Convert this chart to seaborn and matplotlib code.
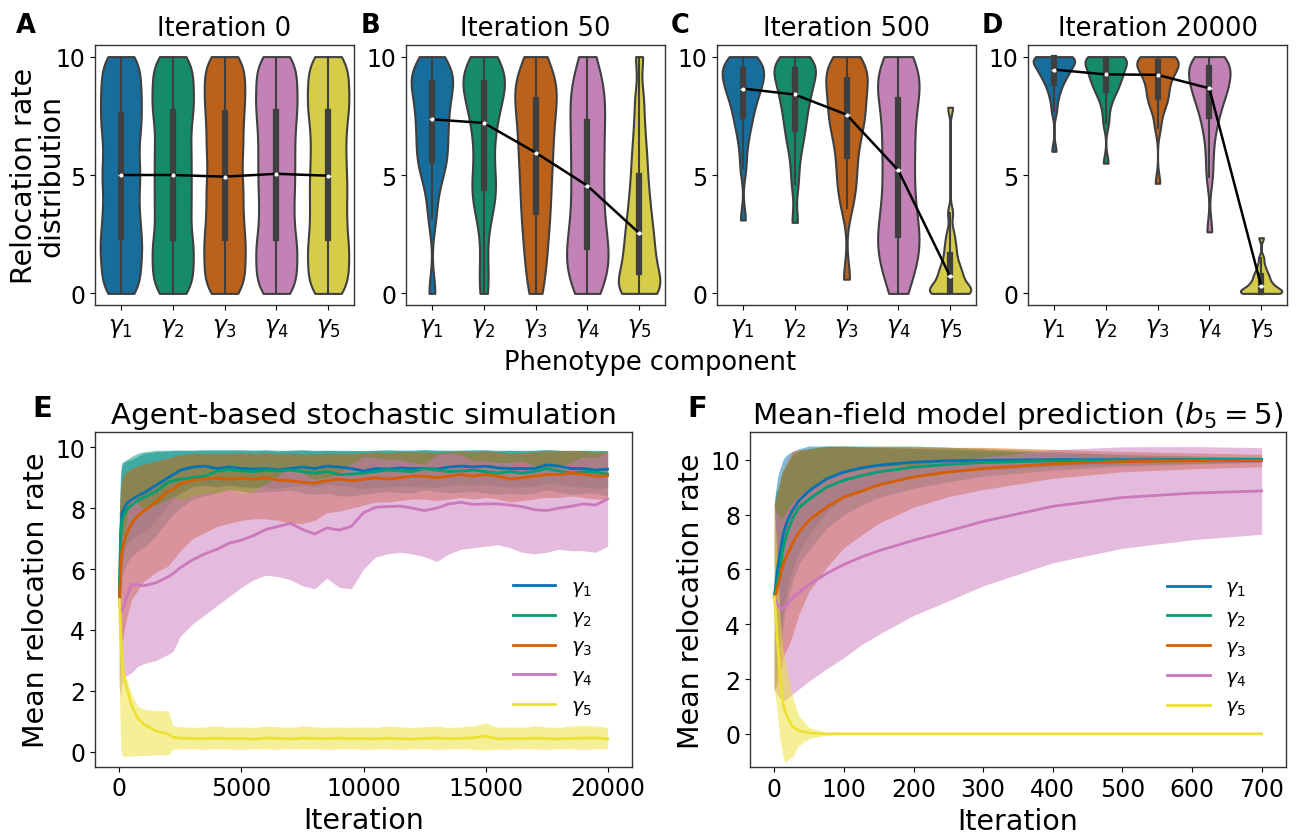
import numpy as np
import pandas as pd
import matplotlib
matplotlib.use("Agg")
import matplotlib.pyplot as plt
import seaborn as sns

# ---------------- data ----------------
components = ["$\\gamma_1$", "$\\gamma_2$", "$\\gamma_3$", "$\\gamma_4$", "$\\gamma_5$"]
colors = ["#0173B2", "#029E73", "#D55E00", "#CC78BC", "#ECE133"]
violin_titles = ["Iteration 0", "Iteration 50", "Iteration 500", "Iteration 20000"]

# relocation-rate samples (quantile read-outs) per phenotype component
iter0_samples = [
    [0, 0.5, 1.0, 1.5, 1.95, 2.4, 2.9, 3.4, 3.95, 4.5, 5.0, 5.5, 6.05, 6.6, 7.1, 7.55, 8.05, 8.5, 9.0, 9.5, 10],
    [0, 0.5, 0.95, 1.45, 1.9, 2.35, 2.9, 3.45, 3.95, 4.5, 5.0, 5.55, 6.05, 6.6, 7.15, 7.65, 8.1, 8.55, 9.05, 9.5, 10],
    [0, 0.5, 0.95, 1.45, 1.9, 2.35, 2.85, 3.35, 3.9, 4.4, 4.93, 5.5, 6.05, 6.55, 7.1, 7.6, 8.1, 8.55, 9.05, 9.5, 10],
    [0, 0.5, 0.95, 1.45, 1.9, 2.35, 2.9, 3.45, 4.0, 4.55, 5.05, 5.6, 6.1, 6.65, 7.15, 7.65, 8.1, 8.55, 9.05, 9.5, 10],
    [0, 0.5, 0.95, 1.45, 1.9, 2.35, 2.9, 3.4, 3.95, 4.45, 4.97, 5.5, 6.05, 6.6, 7.15, 7.65, 8.1, 8.55, 9.05, 9.5, 10],
]
iter50_samples = [
    [0, 3.2, 4.3, 5.0, 5.4, 5.65, 6.0, 6.35, 6.7, 7.05, 7.35, 7.7, 8.0, 8.3, 8.6, 8.9, 9.1, 9.3, 9.45, 9.6, 10],
    [0, 1.2, 2.8, 3.7, 4.1, 4.45, 4.9, 5.5, 6.1, 6.7, 7.2, 7.6, 7.95, 8.3, 8.6, 8.9, 9.1, 9.3, 9.45, 9.6, 10],
    [0, 0.9, 1.6, 2.3, 2.9, 3.45, 3.95, 4.5, 5.0, 5.5, 5.95, 6.4, 6.85, 7.3, 7.75, 8.15, 8.5, 8.8, 9.1, 9.4, 10],
    [0, 0.45, 0.85, 1.25, 1.6, 1.95, 2.4, 2.9, 3.45, 4.0, 4.55, 5.1, 5.65, 6.15, 6.7, 7.25, 7.75, 8.25, 8.7, 9.15, 10],
    [0, 0, 0.15, 0.35, 0.55, 0.9, 1.2, 1.5, 1.85, 2.2, 2.55, 2.95, 3.35, 3.85, 4.35, 4.95, 5.6, 6.3, 7.2, 8.3, 10],
]
iter500_samples = [
    [3.1, 5.3, 6.2, 6.8, 7.2, 7.5, 7.8, 8.05, 8.3, 8.5, 8.65, 8.8, 8.95, 9.1, 9.25, 9.45, 9.55, 9.65, 9.75, 9.85, 10],
    [3.0, 4.6, 5.5, 6.2, 6.6, 6.95, 7.3, 7.6, 7.9, 8.15, 8.4, 8.6, 8.8, 9.0, 9.2, 9.45, 9.55, 9.65, 9.75, 9.85, 10],
    [0.6, 3.6, 4.3, 4.8, 5.3, 5.8, 6.3, 6.7, 7.0, 7.3, 7.55, 7.85, 8.1, 8.35, 8.65, 9.0, 9.2, 9.4, 9.55, 9.7, 10],
    [0, 0.8, 1.3, 1.75, 2.1, 2.45, 2.9, 3.4, 4.0, 4.6, 5.2, 5.8, 6.35, 6.9, 7.5, 8.15, 8.6, 8.95, 9.25, 9.55, 10],
    [0, 0, 0.02, 0.05, 0.07, 0.1, 0.2, 0.3, 0.45, 0.6, 0.72, 0.85, 1.0, 1.15, 1.35, 1.62, 1.9, 2.2, 2.6, 3.4, 7.86],
]
iter20000_samples = [
    [6.0, 7.7, 8.2, 8.5, 8.75, 8.9, 9.05, 9.2, 9.3, 9.38, 9.45, 9.55, 9.65, 9.75, 9.85, 9.92, 9.95, 9.97, 9.98, 9.99, 10],
    [5.5, 7.2, 7.8, 8.2, 8.45, 8.6, 8.75, 8.9, 9.05, 9.15, 9.25, 9.35, 9.45, 9.6, 9.72, 9.85, 9.9, 9.94, 9.97, 9.99, 10],
    [4.65, 7.0, 7.6, 7.95, 8.15, 8.3, 8.5, 8.7, 8.9, 9.05, 9.23, 9.35, 9.45, 9.57, 9.68, 9.79, 9.86, 9.92, 9.96, 9.99, 10],
    [2.6, 4.9, 5.8, 6.6, 7.1, 7.5, 7.8, 8.05, 8.3, 8.5, 8.66, 8.8, 8.95, 9.1, 9.3, 9.5, 9.6, 9.72, 9.82, 9.92, 10],
    [0, 0, 0.01, 0.02, 0.03, 0.05, 0.1, 0.15, 0.2, 0.26, 0.32, 0.38, 0.45, 0.55, 0.65, 0.75, 0.85, 1.0, 1.2, 1.5, 2.35],
]

# Panel E: agent-based simulation (mean, lower and upper band edges)
e_iter = [0, 50, 100, 200, 300, 500, 750, 1000, 1500, 2000, 2200,
          2500, 3000, 3500, 4000, 4500, 5000, 5500, 6000, 6500, 7000,
          7500, 8000, 8500, 9000, 9500, 10000, 10500, 11000, 11500, 12000,
          12500, 13000, 13500, 14000, 14500, 15000, 15500, 16000, 16500, 17000,
          17500, 18000, 18500, 19000, 19500, 20000]
e_mean_1 = [5.0, 7.2, 7.8, 8.0, 8.15, 8.28, 8.4, 8.5, 8.75, 9.0, 9.1,
            9.25, 9.35, 9.38, 9.3, 9.35, 9.3, 9.28, 9.3, 9.25, 9.3,
            9.35, 9.3, 9.38, 9.35, 9.3, 9.22, 9.3, 9.28, 9.32, 9.3,
            9.3, 9.28, 9.35, 9.38, 9.35, 9.38, 9.32, 9.3, 9.3, 9.3,
            9.42, 9.38, 9.3, 9.3, 9.25, 9.28]
e_lo_1 = [2.1, 5.0, 6.2, 6.5, 6.8, 7.0, 7.1, 7.2, 7.6, 8.1, 8.3,
          8.5, 8.7, 8.75, 8.7, 8.75, 8.7, 8.68, 8.7, 8.65, 8.7,
          8.75, 8.7, 8.78, 8.75, 8.7, 8.62, 8.7, 8.68, 8.72, 8.7,
          8.7, 8.68, 8.75, 8.78, 8.75, 8.78, 8.72, 8.7, 8.7, 8.7,
          8.82, 8.78, 8.7, 8.7, 8.65, 8.68]
e_hi_1 = [7.9, 9.0, 9.4, 9.5, 9.55, 9.6, 9.7, 9.8, 9.85, 9.88, 9.9,
          9.9, 9.9, 9.92, 9.9, 9.9, 9.92, 9.9, 9.9, 9.88, 9.9,
          9.92, 9.9, 9.9, 9.9, 9.9, 9.88, 9.9, 9.9, 9.9, 9.9,
          9.92, 9.9, 9.9, 9.9, 9.9, 9.92, 9.9, 9.9, 9.9, 9.9,
          9.92, 9.9, 9.9, 9.9, 9.88, 9.9]
e_mean_2 = [5.0, 7.0, 7.6, 7.8, 7.95, 8.1, 8.25, 8.35, 8.55, 8.85, 8.9,
            8.95, 9.0, 9.05, 9.22, 9.28, 9.22, 9.2, 9.25, 9.22, 9.25,
            9.2, 9.15, 9.2, 9.1, 9.12, 9.15, 9.2, 9.25, 9.22, 9.2,
            9.3, 9.25, 9.2, 9.22, 9.25, 9.2, 9.15, 9.2, 9.15, 9.2,
            9.3, 9.22, 9.15, 9.2, 9.18, 9.12]
e_lo_2 = [2.1, 4.8, 5.7, 6.0, 6.2, 6.4, 6.6, 6.7, 7.1, 7.6, 7.8,
          8.0, 8.3, 8.4, 8.5, 8.6, 8.55, 8.5, 8.55, 8.55, 8.6,
          8.5, 8.45, 8.5, 8.4, 8.4, 8.45, 8.5, 8.55, 8.5, 8.5,
          8.6, 8.55, 8.5, 8.52, 8.55, 8.5, 8.45, 8.5, 8.45, 8.5,
          8.6, 8.52, 8.45, 8.5, 8.48, 8.4]
e_hi_2 = [7.9, 9.2, 9.5, 9.55, 9.6, 9.7, 9.8, 9.85, 9.9, 9.9, 9.9,
          9.9, 9.9, 9.9, 9.92, 9.92, 9.9, 9.9, 9.92, 9.9, 9.9,
          9.9, 9.88, 9.9, 9.88, 9.88, 9.9, 9.9, 9.92, 9.9, 9.9,
          9.92, 9.9, 9.9, 9.9, 9.92, 9.9, 9.88, 9.9, 9.88, 9.9,
          9.92, 9.9, 9.88, 9.9, 9.9, 9.88]
e_mean_3 = [5.0, 6.0, 6.6, 6.9, 7.15, 7.5, 7.75, 7.9, 8.2, 8.55, 8.62,
            8.8, 8.92, 8.96, 8.98, 8.95, 8.98, 8.95, 9.0, 8.92, 8.9,
            8.85, 8.82, 8.9, 8.95, 8.9, 8.95, 9.0, 8.95, 9.0, 9.05,
            9.05, 9.0, 9.05, 9.1, 9.05, 9.1, 9.05, 8.95, 9.0, 9.05,
            9.1, 9.1, 9.15, 9.12, 9.05, 9.07]
e_lo_3 = [2.1, 3.2, 3.5, 4.0, 4.4, 5.0, 5.3, 5.6, 5.9, 6.1, 6.3,
          6.6, 7.0, 7.2, 7.4, 7.5, 7.6, 7.65, 7.65, 7.6, 7.5,
          7.5, 7.6, 7.85, 7.9, 8.0, 8.1, 8.2, 8.2, 8.25, 8.3,
          8.3, 8.25, 8.3, 8.35, 8.3, 8.35, 8.3, 8.2, 8.25, 8.3,
          8.35, 8.35, 8.4, 8.35, 8.3, 8.3]
e_hi_3 = [7.9, 8.6, 8.9, 9.1, 9.2, 9.3, 9.4, 9.45, 9.55, 9.65, 9.7,
          9.75, 9.8, 9.8, 9.8, 9.8, 9.82, 9.8, 9.82, 9.8, 9.8,
          9.78, 9.78, 9.8, 9.8, 9.8, 9.82, 9.85, 9.82, 9.85, 9.85,
          9.85, 9.82, 9.85, 9.88, 9.85, 9.88, 9.85, 9.8, 9.82, 9.85,
          9.88, 9.88, 9.9, 9.88, 9.85, 9.85]
e_mean_4 = [5.0, 4.6, 4.65, 4.8, 5.1, 5.5, 5.48, 5.45, 5.55, 5.75, 5.85,
            6.05, 6.3, 6.5, 6.65, 6.85, 6.95, 7.1, 7.3, 7.4, 7.5,
            7.3, 7.15, 7.35, 7.28, 7.4, 7.85, 8.03, 8.05, 8.07, 8.0,
            7.92, 8.0, 8.14, 8.19, 8.12, 8.14, 8.14, 8.1, 8.05, 7.95,
            7.92, 8.0, 8.06, 8.14, 8.1, 8.3]
e_lo_4 = [2.1, 1.8, 2.2, 2.5, 2.5, 2.6, 2.8, 2.9, 3.0, 3.2, 3.3,
          3.8, 4.2, 4.5, 4.8, 5.1, 5.4, 5.65, 5.8, 5.75, 5.65,
          5.45, 5.35, 5.7, 5.4, 5.35, 6.0, 6.4, 6.5, 6.55, 6.5,
          6.4, 6.25, 6.5, 6.65, 6.7, 6.75, 6.8, 6.7, 6.55, 6.5,
          6.55, 6.65, 6.6, 6.6, 6.55, 6.75]
e_hi_4 = [7.9, 7.4, 7.1, 7.1, 7.7, 8.4, 8.15, 8.0, 8.1, 8.3, 8.4,
          8.3, 8.4, 8.5, 8.5, 8.6, 8.5, 8.55, 8.8, 9.05, 9.35,
          9.15, 8.95, 9.0, 9.15, 9.45, 9.7, 9.65, 9.6, 9.6, 9.5,
          9.45, 9.75, 9.8, 9.75, 9.55, 9.55, 9.5, 9.5, 9.55, 9.4,
          9.3, 9.35, 9.5, 9.7, 9.65, 9.85]
e_mean_5 = [5.0, 3.8, 3.0, 2.4, 2.1, 1.5, 1.1, 0.9, 0.68, 0.58, 0.48,
            0.45, 0.44, 0.43, 0.45, 0.43, 0.44, 0.42, 0.45, 0.44, 0.42,
            0.45, 0.44, 0.43, 0.45, 0.43, 0.44, 0.42, 0.45, 0.43, 0.42,
            0.44, 0.45, 0.43, 0.44, 0.46, 0.52, 0.42, 0.44, 0.43, 0.45,
            0.44, 0.42, 0.44, 0.45, 0.46, 0.42]
e_lo_5 = [2.1, 0.2, -0.1, -0.15, -0.15, -0.15, -0.12, -0.13, -0.1, -0.1, 0.08,
          0.09, 0.1, 0.08, 0.1, 0.09, 0.08, 0.1, 0.09, 0.08, 0.1,
          0.09, 0.1, 0.08, 0.09, 0.1, 0.08, 0.09, 0.1, 0.08, 0.09,
          0.1, 0.08, 0.09, 0.1, 0.08, 0.06, 0.09, 0.08, 0.1, 0.09,
          0.08, 0.1, 0.09, 0.08, 0.09, 0.1]
e_hi_5 = [7.9, 5.5, 4.0, 2.6, 2.4, 1.9, 1.5, 1.4, 1.35, 1.35, 0.85,
          0.82, 0.8, 0.82, 0.85, 0.8, 0.82, 0.8, 0.85, 0.82, 0.8,
          0.85, 0.82, 0.8, 0.82, 0.8, 0.82, 0.8, 0.85, 0.82, 0.8,
          0.82, 0.85, 0.8, 0.82, 0.85, 0.95, 0.8, 0.82, 0.8, 0.85,
          0.82, 0.8, 0.85, 0.88, 0.85, 0.8]

# Panel F: mean-field model (mean and standard deviation)
f_iter = [0, 2, 5, 8, 10, 12, 15, 20, 26, 35, 50, 75, 100, 125, 150, 200, 250, 300, 400, 500, 600, 700]
f_mean_1 = [5.0, 5.45, 6.1, 6.6, 6.9, 7.2, 7.5, 7.85, 8.15, 8.5, 8.87, 9.3, 9.55, 9.7, 9.8, 9.91, 9.96, 9.98, 10.0, 10.0, 10.0, 10.0]
f_mean_2 = [5.0, 5.3, 5.65, 6.0, 6.35, 6.7, 7.05, 7.45, 7.85, 8.25, 8.56, 9.0, 9.25, 9.42, 9.56, 9.73, 9.83, 9.9, 9.96, 9.98, 9.99, 10.0]
f_mean_3 = [5.0, 5.1, 5.4, 5.7, 5.95, 6.15, 6.35, 6.6, 6.95, 7.35, 7.8, 8.27, 8.64, 8.85, 9.08, 9.37, 9.55, 9.68, 9.85, 9.93, 9.96, 9.97]
f_mean_4 = [5.0, 4.85, 4.7, 4.6, 4.57, 4.56, 4.62, 4.78, 4.95, 5.15, 5.45, 5.85, 6.18, 6.45, 6.68, 7.06, 7.4, 7.75, 8.3, 8.62, 8.78, 8.86]
f_mean_5 = [5.0, 4.35, 3.2, 2.13, 1.6, 1.16, 0.85, 0.55, 0.26, 0.12, 0.03, 0.0, 0.0, 0.0, 0.0, 0.0, 0.0, 0.0, 0.0, 0.0, 0.0, 0.0]
f_std_1 = [3.4, 3.45, 3.3, 3.07, 2.9, 2.78, 2.6, 2.37, 2.15, 1.9, 1.63, 1.2, 0.95, 0.78, 0.65, 0.5, 0.42, 0.35, 0.25, 0.18, 0.13, 0.1]
f_std_2 = [3.4, 3.5, 3.25, 3.2, 3.0, 2.85, 2.65, 2.45, 2.3, 2.05, 1.85, 1.5, 1.25, 1.08, 0.94, 0.77, 0.63, 0.5, 0.34, 0.22, 0.15, 0.08]
f_std_3 = [3.4, 3.45, 3.5, 3.5, 3.5, 3.45, 3.4, 3.4, 3.35, 3.0, 2.6, 2.2, 1.85, 1.6, 1.4, 1.1, 0.9, 0.77, 0.53, 0.37, 0.29, 0.23]
f_std_4 = [3.4, 3.35, 3.3, 3.3, 3.3, 3.32, 3.4, 3.45, 3.5, 3.52, 3.52, 3.48, 3.4, 3.2, 3.05, 2.74, 2.55, 2.35, 2.06, 1.85, 1.7, 1.58]
f_std_5 = [3.4, 3.1, 2.7, 2.3, 2.1, 1.95, 1.9, 1.5, 1.1, 0.55, 0.2, 0.05, 0.01, 0, 0, 0, 0, 0, 0, 0, 0, 0]

# ---------------- figure ----------------
W, H = 1301, 837
fig = plt.figure(figsize=(W / 100, H / 100), dpi=100)

def frac_rect(left, top, right, bottom):
    return [left / W, 1 - bottom / H, (right - left) / W, (bottom - top) / H]

top_lefts = [95, 406, 717, 1028]
top_letters = ["A", "B", "C", "D"]
letter_x = [16, 361, 671, 982]
all_samples = [iter0_samples, iter50_samples, iter500_samples, iter20000_samples]
bw_table = [
    [0.35, 0.35, 0.35, 0.35, 0.35],
    [0.55, 0.55, 0.6, 0.6, 0.4],
    [0.55, 0.55, 0.55, 0.6, 0.3],
    [0.55, 0.55, 0.55, 0.55, 0.45],
]
edge = "#3f3f3f"

for k in range(4):
    ax = fig.add_axes(frac_rect(top_lefts[k], 46, top_lefts[k] + 259, 306))
    samples = all_samples[k]
    for i in range(5):
        sns.violinplot(x=[components[i]] * len(samples[i]), y=samples[i],
                       order=components, color=colors[i], cut=0,
                       density_norm="width", inner="box", linewidth=1.5,
                       linecolor=edge, bw_adjust=bw_table[k][i], ax=ax,
                       inner_kws=dict(box_width=4.5, whis_width=1.5))
    meds = [np.median(s) for s in samples]
    ax.plot(range(5), meds, color="black", lw=1.8, zorder=5)
    ax.scatter(range(5), meds, s=9, color="white", zorder=6, linewidths=0)
    ax.set_xlim(-0.5, 4.5)
    ax.set_ylim(-0.49, 10.49)
    ax.set_yticks([0, 5, 10])
    ax.set_xlabel("")
    ax.set_ylabel("")
    ax.tick_params(labelsize=17)
    ax.set_title(violin_titles[k], fontsize=18.5, pad=7)
    for sp in ax.spines.values():
        sp.set_linewidth(1.0)
        sp.set_color("#333333")
    fig.text(letter_x[k] / W, 1 - 33 / H, top_letters[k], fontsize=18.5,
             fontweight="bold", va="baseline", ha="left")
    if k == 0:
        ax.set_ylabel("Relocation rate\ndistribution", fontsize=20.5, linespacing=0.95)
        ax.yaxis.set_label_coords(-0.115, 0.5)

fig.text(0.5, 1 - 370 / H, "Phenotype component", fontsize=18.5, ha="center", va="baseline")

# ---- Panel E ----
axE = fig.add_axes(frac_rect(95, 433.3, 632, 767.7))
e_means = [e_mean_1, e_mean_2, e_mean_3, e_mean_4, e_mean_5]
e_los = [e_lo_1, e_lo_2, e_lo_3, e_lo_4, e_lo_5]
e_his = [e_hi_1, e_hi_2, e_hi_3, e_hi_4, e_hi_5]
for lo, hi, c in zip(e_los, e_his, colors):
    axE.fill_between(e_iter, lo, hi, color=c, alpha=0.5, lw=0)
for m, c, lab in zip(e_means, colors, components):
    sns.lineplot(x=e_iter, y=m, color=c, lw=2, label=lab, ax=axE)
axE.set_xlim(-1000, 21000)
axE.set_ylim(-0.49, 10.49)
axE.set_xticks([0, 5000, 10000, 15000, 20000])
axE.set_yticks([0, 2, 4, 6, 8, 10])
axE.set_title("Agent-based stochastic simulation", fontsize=21.2, pad=7)
axE.set_xlabel("Iteration", fontsize=20.5)
axE.set_ylabel("Mean relocation rate", fontsize=20.5)

# ---- Panel F ----
axF = fig.add_axes(frac_rect(750, 433.3, 1286, 768.3))
f_means = [f_mean_1, f_mean_2, f_mean_3, f_mean_4, f_mean_5]
f_stds = [f_std_1, f_std_2, f_std_3, f_std_4, f_std_5]
for m, s, c in zip(f_means, f_stds, colors):
    m = np.asarray(m); s = np.asarray(s)
    axF.fill_between(f_iter, m - s, m + s, color=c, alpha=0.5, lw=0)
for m, c, lab in zip(f_means, colors, components):
    sns.lineplot(x=f_iter, y=m, color=c, lw=2, label=lab, ax=axF)
axF.set_xlim(-35, 735)
axF.set_ylim(-1.22, 11.0)
axF.set_xticks(range(0, 701, 100))
axF.set_yticks([0, 2, 4, 6, 8, 10])
axF.set_title("Mean-field model prediction ($b_5 = 5$)", fontsize=21.2, pad=7)
axF.set_xlabel("Iteration", fontsize=20.5)
axF.set_ylabel("Mean relocation rate", fontsize=20.5)

for ax in (axE, axF):
    ax.tick_params(labelsize=17)
    for sp in ax.spines.values():
        sp.set_linewidth(1.0)
        sp.set_color("#333333")
    ax.legend(loc="center left", bbox_to_anchor=(0.745, 0.358), frameon=False,
              fontsize=14, handlelength=2.2, labelspacing=0.45)

fig.text(32 / W, 1 - 417 / H, "E", fontsize=21, fontweight="bold", va="baseline", ha="left")
fig.text(687 / W, 1 - 417 / H, "F", fontsize=21, fontweight="bold", va="baseline", ha="left")

fig.savefig("out.png", dpi=100)
